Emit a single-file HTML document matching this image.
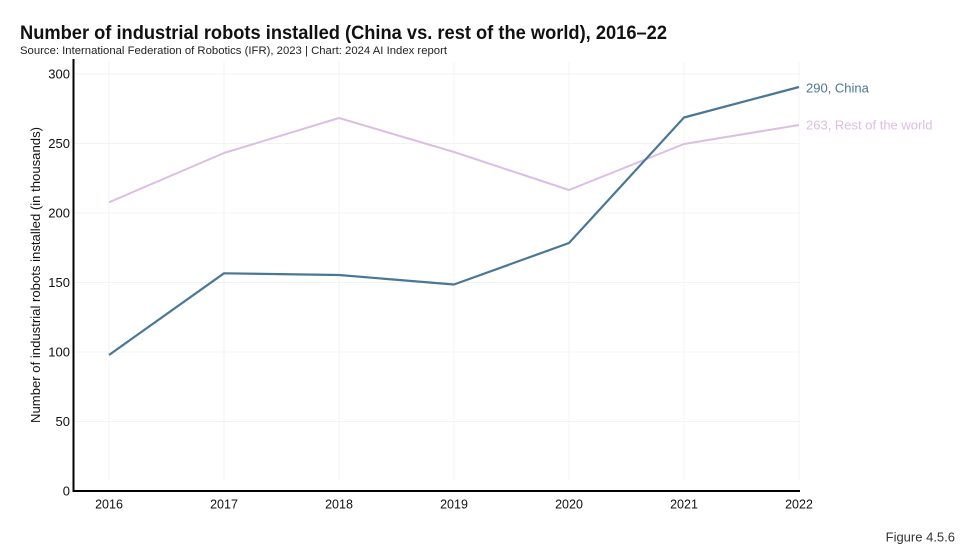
<!DOCTYPE html>
<html>
<head>
<meta charset="utf-8">
<style>
html,body{margin:0;padding:0;background:#fff;}
body{width:960px;height:555px;overflow:hidden;}
svg{display:block;font-family:"Liberation Sans",Arial,sans-serif;}
</style>
</head>
<body>
<svg width="960" height="555" viewBox="0 0 960 555" xmlns="http://www.w3.org/2000/svg">
  <rect width="960" height="555" fill="#fff"/>
  <text x="20" y="39" font-size="19" font-weight="bold" fill="#111" textLength="647" lengthAdjust="spacingAndGlyphs">Number of industrial robots installed (China vs. rest of the world), 2016–22</text>
  <text x="20" y="54" font-size="11" fill="#222" textLength="427" lengthAdjust="spacingAndGlyphs">Source: International Federation of Robotics (IFR), 2023 | Chart: 2024 AI Index report</text>

  <!-- grid -->
  <g stroke="#f3f3f3" stroke-width="1">
    <line x1="74" y1="74" x2="800" y2="74"/>
    <line x1="74" y1="143.5" x2="800" y2="143.5"/>
    <line x1="74" y1="213" x2="800" y2="213"/>
    <line x1="74" y1="282.5" x2="800" y2="282.5"/>
    <line x1="74" y1="352" x2="800" y2="352"/>
    <line x1="74" y1="421.5" x2="800" y2="421.5"/>
    <line x1="109" y1="62" x2="109" y2="480"/>
    <line x1="224" y1="62" x2="224" y2="480"/>
    <line x1="339" y1="62" x2="339" y2="480"/>
    <line x1="454" y1="62" x2="454" y2="480"/>
    <line x1="569" y1="62" x2="569" y2="480"/>
    <line x1="684" y1="62" x2="684" y2="480"/>
    <line x1="799" y1="62" x2="799" y2="480"/>
  </g>

  <!-- axes -->
  <line x1="73.5" y1="59" x2="73.5" y2="492" stroke="#000" stroke-width="2"/>
  <line x1="72.5" y1="491" x2="800" y2="491" stroke="#000" stroke-width="2"/>

  <!-- y tick labels -->
  <g font-size="13" fill="#111" text-anchor="end">
    <text x="70" y="78.5">300</text>
    <text x="70" y="148">250</text>
    <text x="70" y="217.5">200</text>
    <text x="70" y="287">150</text>
    <text x="70" y="356.5">100</text>
    <text x="70" y="426">50</text>
    <text x="70" y="495.5">0</text>
  </g>

  <!-- x tick labels -->
  <g font-size="12.5" fill="#111" text-anchor="middle">
    <text x="109" y="508.5">2016</text>
    <text x="224" y="508.5">2017</text>
    <text x="339" y="508.5">2018</text>
    <text x="454" y="508.5">2019</text>
    <text x="569" y="508.5">2020</text>
    <text x="684" y="508.5">2021</text>
    <text x="799" y="508.5">2022</text>
  </g>

  <!-- y axis title -->
  <text transform="translate(40,275) rotate(-90)" font-size="13" fill="#111" text-anchor="middle" textLength="296" lengthAdjust="spacingAndGlyphs">Number of industrial robots installed (in thousands)</text>

  <!-- series -->
  <polyline fill="none" stroke="#dcbde3" stroke-width="2" stroke-linejoin="round"
    points="109,202.3 224,153 339,118 454,152 569,190 684,144 799,125"/>
  <polyline fill="none" stroke="#4a7796" stroke-width="2.2" stroke-linejoin="round"
    points="109,355 224,273.3 339,275 454,284.5 569,243 684,117.5 799,87"/>

  <!-- end labels -->
  <text x="806" y="92.5" font-size="13" fill="#4a7796">290, China</text>
  <text x="806" y="129.5" font-size="13" fill="#dcbde3">263, Rest of the world</text>

  <text x="955" y="541.5" font-size="13" fill="#333" text-anchor="end">Figure 4.5.6</text>
</svg>
</body>
</html>
